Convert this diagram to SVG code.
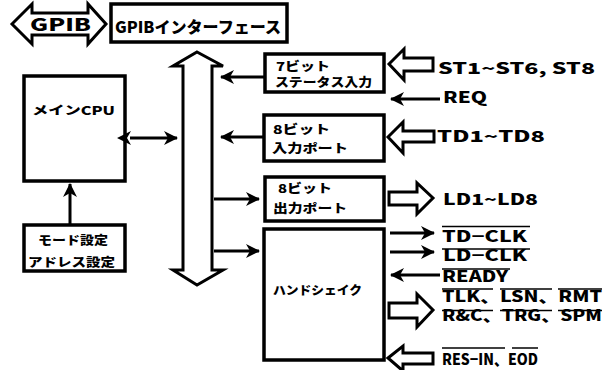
<svg xmlns="http://www.w3.org/2000/svg" width="616" height="370" viewBox="0 0 616 370">
<style>
.box{fill:#fff;stroke:#000;stroke-width:3.5}
.hol{fill:#fff;stroke:#000;stroke-width:3;stroke-linejoin:miter}
.ln{stroke:#000;stroke-width:3;fill:none}
.ol{stroke:#000;stroke-width:1.5}
text{font-family:"Noto Sans CJK JP","Liberation Sans",sans-serif;font-weight:900;fill:#000}
.j{font-size:12px}
.e{font-size:15px}
</style>
<defs>
<marker id="ah" viewBox="0 0 14 14" refX="13" refY="7" markerWidth="14" markerHeight="14" markerUnits="userSpaceOnUse" orient="auto">
<path d="M0,0 L14,7 L0,14 L4,7 z" fill="#000"/>
</marker>
<marker id="as" viewBox="0 0 14 14" refX="1" refY="7" markerWidth="14" markerHeight="14" markerUnits="userSpaceOnUse" orient="auto-start-reverse">
<path d="M0,0 L14,7 L0,14 L4,7 z" fill="#000"/>
</marker>
</defs>

<g id="gpib">
<polygon class="hol" points="12,24 32,4 32,13 88,13 88,4 106,24 88,44 88,35 32,35 32,44"/>
<text x="30" y="31" font-size="17" textLength="61" lengthAdjust="spacingAndGlyphs">GPIB</text>
</g>

<g id="gpib-if">
<rect class="box" x="111" y="4" width="176" height="38"/>
<text x="115" y="33" font-size="16" textLength="166" lengthAdjust="spacingAndGlyphs">GPIBインターフェース</text>
</g>

<g id="bus">
<polygon class="hol" points="197,52 223,66 212,66 212,270 223,270 197,285 173,270 183,270 183,66 173,66"/>
</g>

<g id="cpu">
<rect class="box" x="24" y="76" width="101" height="105"/>
<text class="j" x="32" y="115" textLength="83" lengthAdjust="spacingAndGlyphs">メインCPU</text>
</g>

<g id="mode">
<rect class="box" x="24" y="225" width="101" height="46"/>
<text class="j" x="38" y="245" textLength="70" lengthAdjust="spacingAndGlyphs">モード設定</text>
<text class="j" x="28" y="267" textLength="87" lengthAdjust="spacingAndGlyphs">アドレス設定</text>
</g>

<g id="status">
<rect class="box" x="265" y="54" width="119" height="38"/>
<text class="j" x="276" y="71" textLength="54" lengthAdjust="spacingAndGlyphs">7ビット</text>
<text class="j" x="275" y="87" textLength="97" lengthAdjust="spacingAndGlyphs">ステータス入力</text>
</g>

<g id="inport">
<rect class="box" x="264" y="115" width="120" height="46"/>
<text class="j" x="273" y="134" textLength="57" lengthAdjust="spacingAndGlyphs">8ビット</text>
<text class="j" x="272" y="153" textLength="76" lengthAdjust="spacingAndGlyphs">入力ポート</text>
</g>

<g id="outport">
<rect class="box" x="265" y="177" width="119" height="44"/>
<text class="j" x="278" y="193" textLength="54" lengthAdjust="spacingAndGlyphs">8ビット</text>
<text class="j" x="273" y="213" textLength="74" lengthAdjust="spacingAndGlyphs">出力ポート</text>
</g>

<g id="handshake">
<rect class="box" x="264" y="229" width="120" height="131"/>
<text class="j" x="273" y="295" textLength="89" lengthAdjust="spacingAndGlyphs">ハンドシェイク</text>
</g>

<g id="signals">
<text class="e" x="438" y="74" textLength="157" lengthAdjust="spacingAndGlyphs">ST1~ST6, ST8</text>
<text class="e" x="443" y="103" textLength="44" lengthAdjust="spacingAndGlyphs">REQ</text>
<text class="e" x="437" y="142" textLength="108" lengthAdjust="spacingAndGlyphs">TD1~TD8</text>
<text class="e" x="443" y="205" textLength="95" lengthAdjust="spacingAndGlyphs">LD1~LD8</text>
<text class="e" x="442" y="242" textLength="85" lengthAdjust="spacingAndGlyphs">TD−CLK</text>
<line class="ol" x1="442" y1="226.5" x2="530" y2="226.5"/>
<text class="e" x="443" y="261" textLength="84" lengthAdjust="spacingAndGlyphs">LD−CLK</text>
<line class="ol" x1="442" y1="249" x2="530" y2="249"/>
<text class="e" x="442" y="282" textLength="66" lengthAdjust="spacingAndGlyphs">READY</text>
<line class="ol" x1="442" y1="269" x2="510" y2="269"/>
<text class="e" x="442" y="302" textLength="160" lengthAdjust="spacingAndGlyphs">TLK、LSN、RMT</text>
<line class="ol" x1="442" y1="289" x2="493" y2="289"/>
<line class="ol" x1="500" y1="289" x2="552" y2="289"/>
<line class="ol" x1="558" y1="289" x2="602" y2="289"/>
<text class="e" x="442" y="321" textLength="160" lengthAdjust="spacingAndGlyphs">R&amp;C、TRG、SPM</text>
<line class="ol" x1="442" y1="310.5" x2="493" y2="310.5"/>
<line class="ol" x1="500" y1="310.5" x2="552" y2="310.5"/>
<line class="ol" x1="558" y1="310.5" x2="602" y2="310.5"/>
<text class="e" x="442" y="365" textLength="96" lengthAdjust="spacingAndGlyphs">RES−IN、EOD</text>
<line class="ol" x1="442" y1="348" x2="505" y2="348"/>
<line class="ol" x1="512" y1="348" x2="538" y2="348"/>
</g>

<g id="connectors">
<line class="ln" x1="130" y1="138" x2="177" y2="138" marker-start="url(#as)" marker-end="url(#ah)"/>
<line class="ln" x1="70" y1="224" x2="70" y2="184" marker-end="url(#ah)"/>
<line class="ln" x1="265" y1="77" x2="221" y2="77" marker-end="url(#ah)"/>
<line class="ln" x1="264" y1="137" x2="221" y2="137" marker-end="url(#ah)"/>
<line class="ln" x1="214" y1="199" x2="259" y2="199" marker-end="url(#ah)"/>
<line class="ln" x1="214" y1="251" x2="259" y2="251" marker-end="url(#ah)"/>
<polygon class="hol" points="389,64 404,49 404,58 433,58 433,71 404,71 404,80"/>
<line class="ln" x1="440" y1="99" x2="391" y2="99" marker-end="url(#ah)"/>
<polygon class="hol" points="388,137 403,122 403,131 434,131 434,142 403,142 403,153"/>
<polygon class="hol" points="389,192 417,192 417,183 433,198 417,214 417,205 389,205"/>
<line class="ln" x1="390" y1="233" x2="434" y2="233" marker-end="url(#ah)"/>
<line class="ln" x1="390" y1="252" x2="434" y2="252" marker-end="url(#ah)"/>
<line class="ln" x1="440" y1="275" x2="391" y2="275" marker-end="url(#ah)"/>
<polygon class="hol" points="389,303 417,303 417,294 433,310 417,327 417,318 389,318"/>
<polygon class="hol" points="388,358 403,346 403,353 433,353 433,364 403,364 403,371"/>
</g>
</svg>
